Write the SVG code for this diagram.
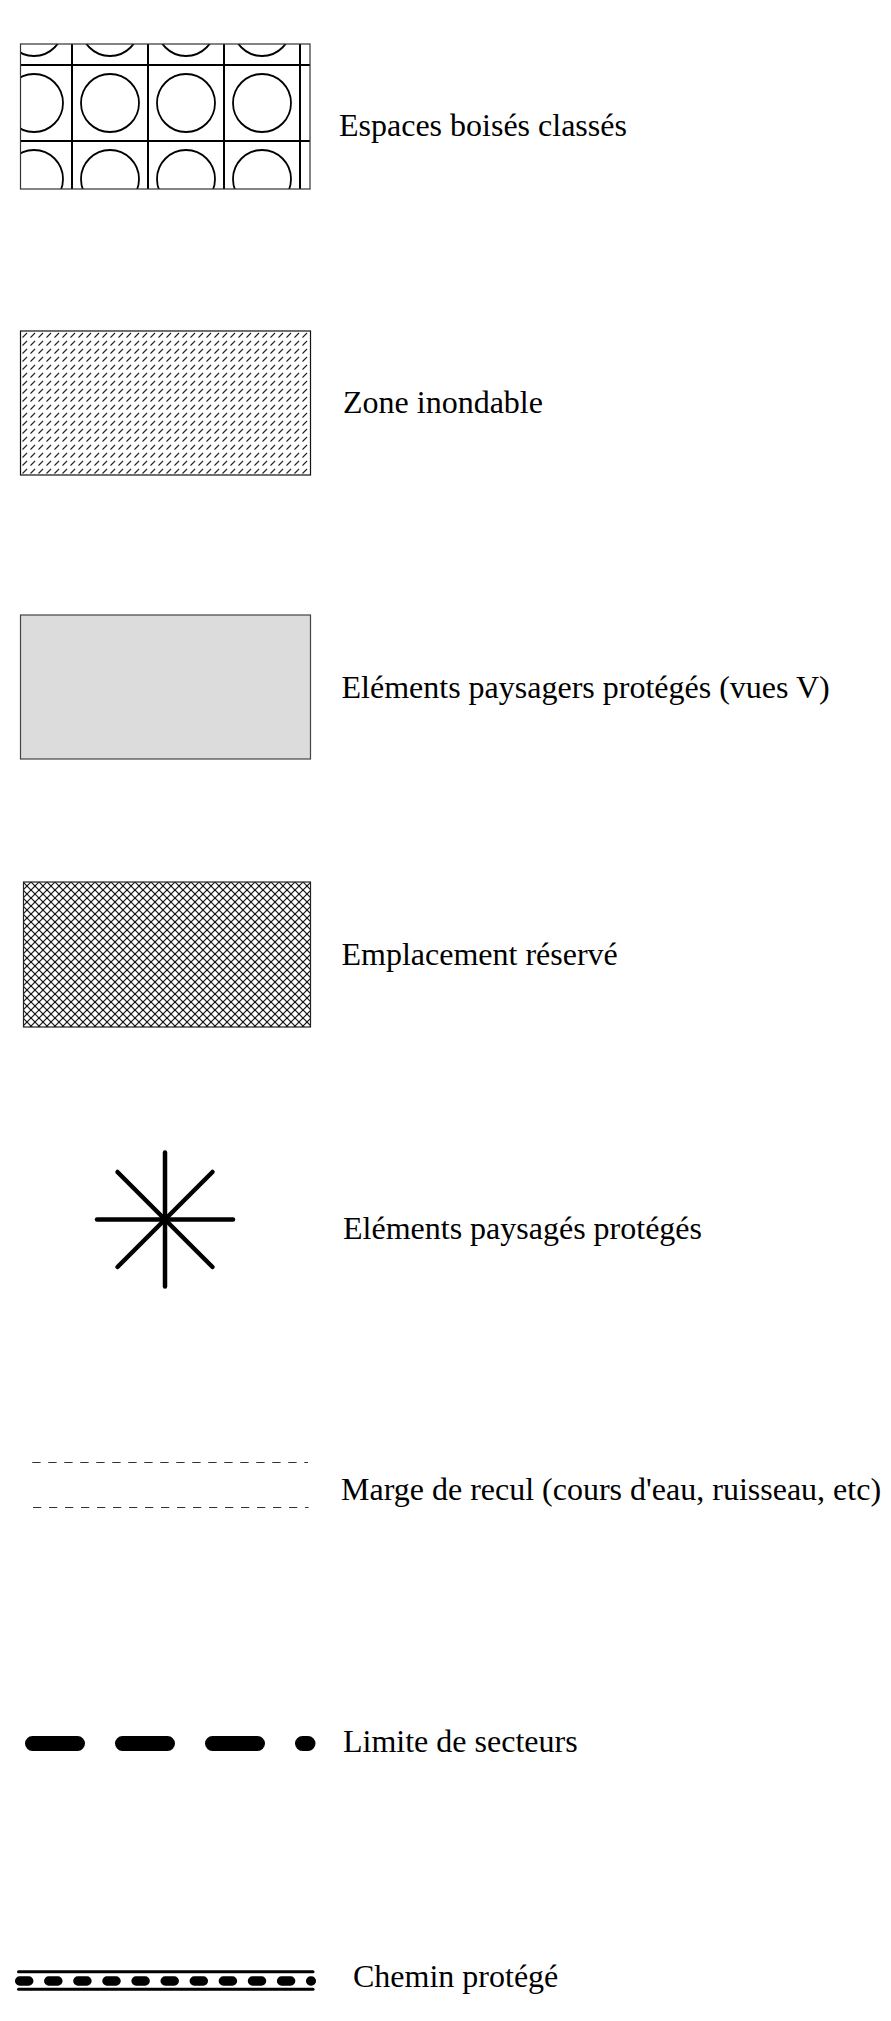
<svg xmlns="http://www.w3.org/2000/svg" width="891" height="2021" viewBox="0 0 891 2021">
  <style>
    .lbl { font-family: "Liberation Serif", "Times New Roman", serif; font-size: 32px; fill: #000; }
    .frame { fill: none; stroke: #333; stroke-width: 1.2; }
  </style>
  <defs>
    <pattern id="ebc" patternUnits="userSpaceOnUse" x="72" y="65" width="76" height="76">
      <rect x="0" y="0" width="76" height="76" fill="#fff"/>
      <circle cx="38" cy="38" r="29" fill="none" stroke="#000" stroke-width="1.8"/>
      <line x1="0" y1="0" x2="0" y2="76" stroke="#000" stroke-width="2"/>
      <line x1="76" y1="0" x2="76" y2="76" stroke="#000" stroke-width="2"/>
      <line x1="0" y1="0" x2="76" y2="0" stroke="#000" stroke-width="2"/>
      <line x1="0" y1="76" x2="76" y2="76" stroke="#000" stroke-width="2"/>
    </pattern>
    <pattern id="flood" patternUnits="userSpaceOnUse" x="21" y="331" width="8" height="8">
      <rect x="0" y="0" width="8" height="8" fill="#fff"/>
      <line x1="1.5" y1="6.5" x2="6" y2="2" stroke="#222" stroke-width="1.1"/>
    </pattern>
    <pattern id="cross" patternUnits="userSpaceOnUse" x="23" y="882" width="8" height="8">
      <rect x="0" y="0" width="8" height="8" fill="#fff"/>
      <line x1="0" y1="0" x2="8" y2="8" stroke="#111" stroke-width="1.2"/>
      <line x1="0" y1="8" x2="8" y2="0" stroke="#111" stroke-width="1.2"/>
    </pattern>
  </defs>
  <rect width="891" height="2021" fill="#fff"/>

  <g id="espaces-boises">
    <rect x="20.5" y="44" width="284.5" height="145" fill="url(#ebc)"/>
    <g stroke="#000" stroke-width="2">
      <line x1="304" y1="65" x2="310" y2="65"/>
      <line x1="304" y1="141" x2="310" y2="141"/>
    </g>
    <rect x="20.5" y="44" width="289.5" height="145" class="frame"/>
    <text class="lbl" x="339" y="136">Espaces boisés classés</text>
  </g>

  <g id="zone-inondable">
    <rect x="20.5" y="331" width="290" height="144" fill="url(#flood)" stroke="#111" stroke-width="1.2"/>
    <text class="lbl" x="343" y="413">Zone inondable</text>
  </g>

  <g id="elements-vues">
    <rect x="20.5" y="615" width="290" height="144" fill="#dcdcdc" stroke="#444" stroke-width="1.2"/>
    <text class="lbl" x="341.5" y="698">Eléments paysagers protégés (vues V)</text>
  </g>

  <g id="emplacement-reserve">
    <rect x="23.5" y="882" width="287" height="145" fill="url(#cross)" stroke="#222" stroke-width="1.2"/>
    <text class="lbl" x="341.5" y="965">Emplacement réservé</text>
  </g>

  <g id="elements-paysages">
    <g stroke="#000" stroke-width="4.5" stroke-linecap="round">
      <line x1="165" y1="1152.5" x2="165" y2="1286.5"/>
      <line x1="97" y1="1219.5" x2="233" y2="1219.5"/>
      <line x1="117.5" y1="1172" x2="212.5" y2="1267"/>
      <line x1="212.5" y1="1172" x2="117.5" y2="1267"/>
    </g>
    <text class="lbl" x="343" y="1239">Eléments paysagés protégés</text>
  </g>

  <g id="marge-recul">
    <g stroke="#333" stroke-width="1.2" stroke-dasharray="8.3 7.7" fill="none">
      <line x1="32.3" y1="1462.5" x2="308" y2="1462.5"/>
      <line x1="33" y1="1507.5" x2="308.5" y2="1507.5"/>
    </g>
    <text class="lbl" x="341" y="1500">Marge de recul (cours d'eau, ruisseau, etc)</text>
  </g>

  <g id="limite-secteurs">
    <line x1="32.5" y1="1743.5" x2="308" y2="1743.5" stroke="#000" stroke-width="15" stroke-linecap="round" stroke-dasharray="45 45"/>
    <text class="lbl" x="343" y="1752">Limite de secteurs</text>
  </g>

  <g id="chemin-protege">
    <g stroke="#000" stroke-linecap="round" fill="none">
      <line x1="18.5" y1="1971.7" x2="313" y2="1971.7" stroke-width="3"/>
      <line x1="18.5" y1="1989.3" x2="313" y2="1989.3" stroke-width="3"/>
      <line x1="19.7" y1="1981" x2="311.3" y2="1981" stroke-width="9.5" stroke-dasharray="9 20.1"/>
    </g>
    <text class="lbl" x="353" y="1987">Chemin protégé</text>
  </g>

  <g id="connectors"/>
</svg>
